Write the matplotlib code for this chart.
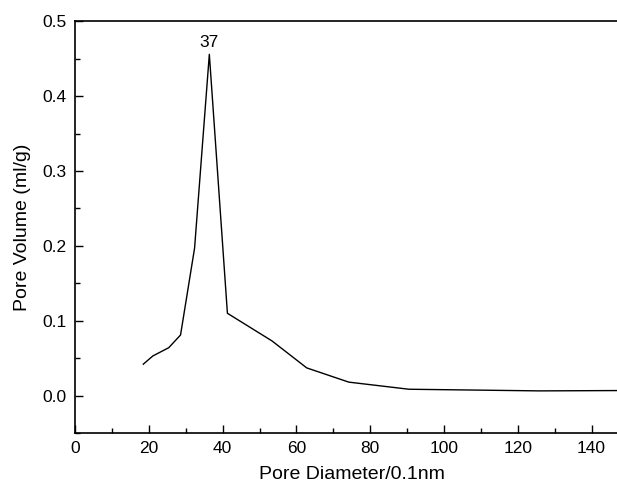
import numpy as np
import matplotlib
matplotlib.use("Agg")
import matplotlib.pyplot as plt
from matplotlib.ticker import MultipleLocator, FormatStrFormatter

plt.rcParams['font.family'] = ['Liberation Sans', 'DejaVu Sans']

# pore size distribution
diameter = [18.5, 21.1, 25.4, 28.6, 32.4, 36.4, 41.3, 53.4, 62.8, 74.2, 90.5, 125.9, 150.0]
volume = [0.042, 0.053, 0.064, 0.081, 0.197, 0.456, 0.110, 0.073, 0.037, 0.018, 0.0085, 0.0063, 0.0068]
peak_label = "37"

fig = plt.figure(figsize=(6.17, 4.86), dpi=100)
# axes run a bit past the right edge, as in the cropped original
ax = fig.add_axes([0.1216, 0.109, 0.897, 0.847])

ax.plot(diameter, volume, color='black', linewidth=1.0)
peak = int(np.argmax(volume))
ax.annotate(peak_label, (diameter[peak], volume[peak]), xytext=(0, 3),
            textcoords='offset points', ha='center', va='bottom', fontsize=12.5)

ax.set_xlim(0, 150)
ax.set_ylim(-0.05, 0.5)
ax.xaxis.set_major_locator(MultipleLocator(20))
ax.xaxis.set_minor_locator(MultipleLocator(10))
ax.yaxis.set_major_locator(MultipleLocator(0.1))
ax.yaxis.set_minor_locator(MultipleLocator(0.05))
ax.yaxis.set_major_formatter(FormatStrFormatter('%.1f'))
ax.tick_params(which='both', direction='in', top=False, right=False,
               labelsize=12.5, width=1.0, pad=6)
ax.tick_params(which='major', length=6)
ax.tick_params(which='minor', length=3.5)
for s in ax.spines.values():
    s.set_linewidth(1.2)

ax.set_xlabel('Pore Diameter/0.1nm', fontsize=14, labelpad=7)
ax.set_ylabel('Pore Volume (ml/g)', fontsize=14, labelpad=8)

fig.savefig('out.png', dpi=100)
